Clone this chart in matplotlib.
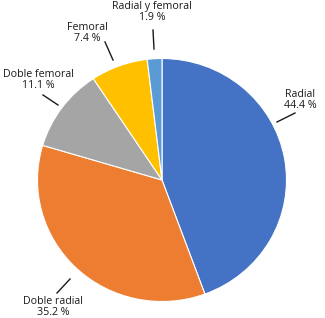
import matplotlib
matplotlib.use("Agg")
import matplotlib.pyplot as plt

categories = ["Radial", "Doble radial", "Doble femoral", "Femoral", "Radial y femoral"]
values = [44.4, 35.2, 11.1, 7.4, 1.9]
colors = ["#4472C4", "#ED7D31", "#A5A5A5", "#FFC000", "#5B9BD5"]

W, H = 325, 318
cx, cy, RX, RY = 162, 180, 124.5, 121.5

fig = plt.figure(figsize=(W / 100, H / 100), dpi=100)
ax = fig.add_axes([0, 0, 1, 1])
ax.pie(values, colors=colors, startangle=90, counterclock=False, radius=1,
       wedgeprops=dict(edgecolor="white", linewidth=0.8))
ax.set_xlim(-cx / RX, (W - cx) / RX)
ax.set_ylim((cy - H) / RY, cy / RY)
ax.set_aspect("auto")
ax.axis("off")

def P(px, py):
    return ((px - cx) / RX, (cy - py) / RY)

# label text centre (pixels), leader line endpoints (pixels)
layout = {
    "Radial": ((300, 100), (277, 122), (295, 113)),
    "Doble radial": ((53, 307), (57, 293), (70, 279)),
    "Doble femoral": ((38, 80), (43, 95), (58, 105)),
    "Femoral": ((87, 33), (105, 42), (113, 60)),
    "Radial y femoral": ((152, 12), (153, 30), (154, 49)),
}
for cat, val in zip(categories, values):
    (tx, ty), a, b = layout[cat]
    x, y = P(tx, ty)
    ax.text(x, y, f"{cat}\n{val} %", ha="center", va="center", fontsize=7.7,
            family="Open Sans", color="#1a1a1a", linespacing=1.05)
    (x1, y1), (x2, y2) = P(*a), P(*b)
    ax.plot([x1, x2], [y1, y2], color="#1a1a1a", lw=1.0)

fig.savefig("out.png", dpi=100)
